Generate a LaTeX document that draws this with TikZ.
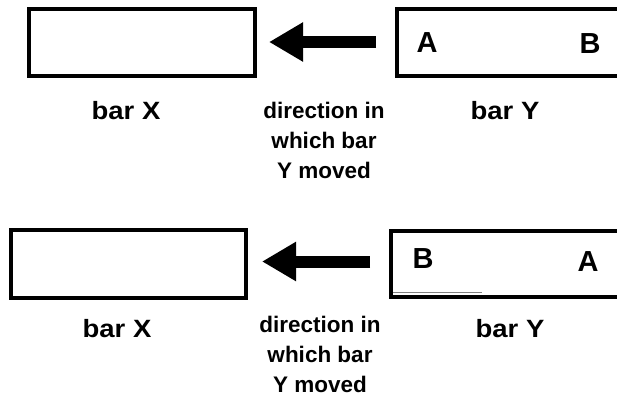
\documentclass[tikz,border=0pt]{standalone}
\usepackage{fontspec}
\setmainfont{Liberation Sans}
\newfontfamily\widesans[FakeStretch=1.1]{Liberation Sans}
\usetikzlibrary{arrows.meta}
\begin{document}
\begin{tikzpicture}[x=1pt,y=-1pt,
  bar/.style={draw=black,line width=3.2pt},
  barlabel/.style={font=\widesans\bfseries\fontsize{25}{30}\selectfont,anchor=base,inner sep=0pt},
  dirlabel/.style={font=\bfseries\fontsize{22.5}{30}\selectfont,align=center,anchor=base,inner sep=0pt},
  endlabel/.style={font=\bfseries\fontsize{29}{30}\selectfont,inner sep=0pt},
  movearrow/.style={line width=12pt,-{Triangle[length=34pt,width=37pt]}}]
\clip (0,0) rectangle (617,397);
\fill[white] (0,0) rectangle (617,397);

% upper row
\draw[bar] (29,9) rectangle (255,76);
\draw[bar] (397,9) rectangle (640,76);
\node[endlabel] (a1) at (427,43) {A};
\node[endlabel] (b1) at (590,44) {B};
\coordinate (tail1) at (376,42);
\coordinate (tip1) at (269,42);
\draw[movearrow] (tail1) -- (tip1);
\node[barlabel] (x1) at (126,119) {bar X};
\node[barlabel] (y1) at (505,119) {bar Y};
\node[dirlabel] (d1) at (324,178) {direction in\\which bar\\Y moved};

% lower row
\draw[bar] (11,230) rectangle (246,298);
\draw[bar] (391,231) rectangle (640,297);
\draw[gray,line width=0.8pt] (393,292) -- (482,292);
\node[endlabel] (b2) at (423,259) {B};
\node[endlabel] (a2) at (588,262) {A};
\coordinate (tail2) at (370,261.5);
\coordinate (tip2) at (262,261.5);
\draw[movearrow] (tail2) -- (tip2);
\node[barlabel] (x2) at (117,337) {bar X};
\node[barlabel] (y2) at (510,337) {bar Y};
\node[dirlabel] (d2) at (320,392) {direction in\\which bar\\Y moved};
\end{tikzpicture}
\end{document}
